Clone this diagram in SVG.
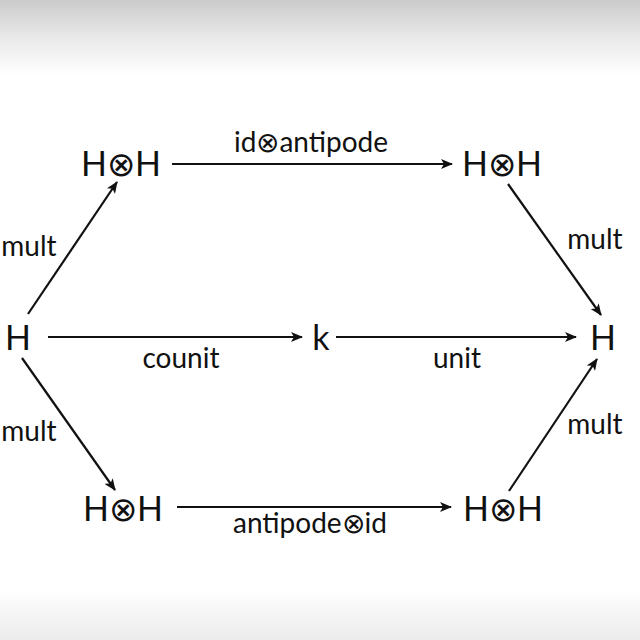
<svg xmlns="http://www.w3.org/2000/svg" width="640" height="640" viewBox="0 0 640 640">
<defs>
<linearGradient id="top" x1="0" y1="0" x2="0" y2="1">
<stop offset="0" stop-color="#cbcbcb"/>
<stop offset="0.5" stop-color="#e9e9e9"/>
<stop offset="1" stop-color="#ffffff"/>
</linearGradient>
<linearGradient id="bot" x1="0" y1="0" x2="0" y2="1">
<stop offset="0" stop-color="#ffffff"/>
<stop offset="1" stop-color="#ebebeb"/>
</linearGradient>
<marker id="ah" viewBox="0 0 12 10" refX="11" refY="5" markerWidth="12" markerHeight="10" markerUnits="userSpaceOnUse" orient="auto">
<path d="M0,0 L12,5 L0,10 L3,5 Z" fill="#111"/>
</marker>
</defs>
<style>
.n{font-family:"Lato","Open Sans","DejaVu Sans",sans-serif;font-size:34px;fill:#111;text-anchor:middle}
.l{font-family:"Lato","Open Sans","DejaVu Sans",sans-serif;font-size:28px;fill:#111;text-anchor:middle}
.o{font-family:"DejaVu Sans",sans-serif;font-weight:200}
.e{stroke:#111;stroke-width:2.2;fill:none;marker-end:url(#ah)}
</style>
<rect width="640" height="640" fill="#fff"/>
<rect width="640" height="75" fill="url(#top)"/>
<rect y="590" width="640" height="50" fill="url(#bot)"/>
<g id="connectors">
<line class="e" x1="172" y1="164" x2="452" y2="164"/>
<line class="e" x1="48" y1="337" x2="302" y2="337"/>
<line class="e" x1="336" y1="337" x2="576" y2="337"/>
<line class="e" x1="177" y1="507" x2="451" y2="507"/>
<line class="e" x1="28" y1="314" x2="117" y2="182"/>
<line class="e" x1="508" y1="184" x2="601" y2="315"/>
<line class="e" x1="22" y1="358" x2="115" y2="490"/>
<line class="e" x1="509" y1="491" x2="597" y2="359"/>
<text class="l" x="311" y="152">id<tspan class="o">⊗</tspan>antipode</text>
<text class="l" x="181" y="368">counit</text>
<text class="l" x="457" y="368">unit</text>
<text class="l" x="310" y="533">antipode<tspan class="o">⊗</tspan>id</text>
<text class="l" x="29" y="256">mult</text>
<text class="l" x="595" y="249">mult</text>
<text class="l" x="29" y="441">mult</text>
<text class="l" x="595" y="434">mult</text>
</g>
<g id="n1"><text class="n" x="121" y="176">H<tspan class="o">⊗</tspan>H</text></g>
<g id="n2"><text class="n" x="502" y="176">H<tspan class="o">⊗</tspan>H</text></g>
<g id="n3"><text class="n" x="18" y="350">H</text></g>
<g id="n4"><text class="n" x="321" y="350">k</text></g>
<g id="n5"><text class="n" x="603" y="350">H</text></g>
<g id="n6"><text class="n" x="123" y="521">H<tspan class="o">⊗</tspan>H</text></g>
<g id="n7"><text class="n" x="503" y="521">H<tspan class="o">⊗</tspan>H</text></g>
</svg>
